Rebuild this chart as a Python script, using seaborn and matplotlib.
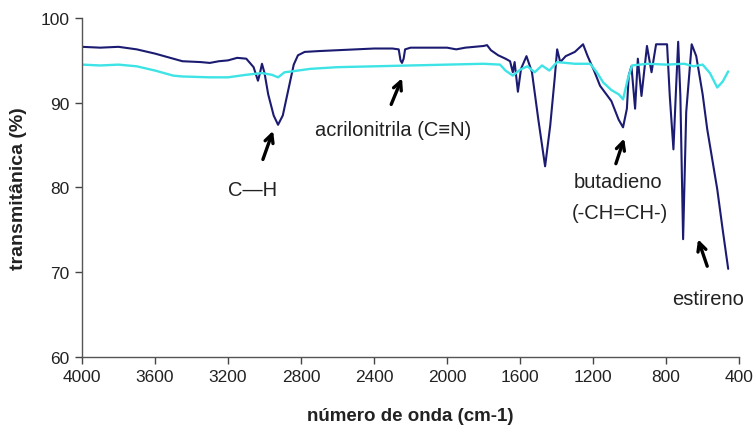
import matplotlib
matplotlib.use("Agg")
import matplotlib.pyplot as plt
import seaborn as sns

# ---- data ----
wn_abs = [4000, 3900, 3800, 3700, 3600, 3500, 3450, 3350, 3300, 3250, 3200, 3150, 3100,
          3060, 3036, 3025, 3014, 3000, 2980, 2950, 2926, 2900, 2870, 2840, 2817, 2780,
          2700, 2600, 2500, 2400, 2300, 2265, 2255, 2247, 2238, 2230, 2200, 2100, 2000,
          1950, 1900, 1850, 1800, 1781, 1760, 1720, 1680, 1655, 1640, 1630, 1612, 1595,
          1565, 1535, 1500, 1463, 1435, 1410, 1397, 1380, 1350, 1300, 1255, 1230, 1195,
          1162, 1100, 1060, 1036, 1015, 1005, 990, 970, 955, 935, 905, 880, 855, 795,
          780, 760, 745, 734, 722, 707, 690, 660, 635, 600, 575, 520, 490, 460]
t_abs = [96.6, 96.5, 96.6, 96.3, 95.8, 95.2, 94.9, 94.8, 94.7, 94.9, 95.0, 95.3, 95.2,
         94.2, 92.6, 93.5, 94.6, 93.5, 91.0, 88.5, 87.4, 88.5, 91.5, 94.5, 95.6, 96.0,
         96.1, 96.2, 96.3, 96.4, 96.4, 96.3, 95.0, 94.7, 95.2, 96.3, 96.5, 96.5, 96.5,
         96.3, 96.5, 96.6, 96.7, 96.8, 96.2, 95.6, 95.2, 94.9, 93.6, 94.8, 91.3, 94.0,
         95.5, 93.6, 88.0, 82.5, 87.3, 93.0, 96.3, 94.8, 95.5, 96.0, 96.9, 95.5, 93.8,
         92.0, 90.2, 88.0, 87.1, 89.3, 93.2, 94.3, 89.3, 95.2, 90.8, 96.7, 93.6, 96.9, 96.9,
         90.8, 84.5, 92.0, 97.2, 90.8, 73.9, 88.9, 96.9, 95.5, 91.0, 86.9, 79.8, 75.0, 70.4]

wn_ref = [4000, 3900, 3800, 3700, 3600, 3500, 3450, 3300, 3200, 3100, 3014, 2960, 2926,
          2890, 2850, 2750, 2600, 2400, 2200, 2000, 1800, 1710, 1680, 1640, 1600, 1560,
          1520, 1480, 1440, 1397, 1300, 1216, 1180, 1145, 1100, 1060, 1036, 1010, 987,
          900, 800, 700, 650, 600, 560, 520, 490, 460]
t_ref = [94.5, 94.4, 94.5, 94.3, 93.8, 93.2, 93.1, 93.0, 93.0, 93.3, 93.5, 93.3, 93.0,
         93.6, 93.7, 94.0, 94.2, 94.3, 94.4, 94.5, 94.6, 94.5, 93.8, 93.2, 93.9, 94.3,
         93.6, 94.4, 93.8, 94.8, 94.6, 94.6, 93.6, 92.4, 91.5, 91.0, 90.4, 92.8, 94.4,
         94.6, 94.5, 94.6, 94.3, 94.5, 93.5, 91.8, 92.5, 93.7]

x_ticks = [4000, 3600, 3200, 2800, 2400, 2000, 1600, 1200, 800, 400]
y_ticks = [60, 70, 80, 90, 100]

sns.set_theme(style="white")
plt.rcParams['font.family'] = ['Liberation Sans', 'DejaVu Sans']
plt.rcParams['xtick.bottom'] = True
plt.rcParams['ytick.left'] = True

fig = plt.figure(figsize=(7.55, 4.31), dpi=100)
ax = fig.add_axes([0.1086, 0.1694, 0.8704, 0.7865])

sns.lineplot(x=wn_abs, y=t_abs, sort=False, estimator=None, color="#1b1b72", lw=1.5, ax=ax)
sns.lineplot(x=wn_ref, y=t_ref, sort=False, estimator=None, color="#3ee3e6", lw=1.7, ax=ax)

ax.set_xlim(4000, 400)
ax.set_ylim(60, 100)
ax.set_xticks(x_ticks)
ax.set_yticks(y_ticks)
ax.tick_params(axis='both', labelsize=12.5, color="#444444", labelcolor="#222222",
               length=5, width=1, direction='out', bottom=True, left=True, pad=4)
for s in ['top', 'right']:
    ax.spines[s].set_visible(False)
for s in ['left', 'bottom']:
    ax.spines[s].set_color("#555555")
    ax.spines[s].set_linewidth(1.0)

ax.set_xlabel("número de onda (cm-1)", fontsize=13.5, fontweight='bold', color="#222222", labelpad=16)
ax.set_ylabel("transmitânica (%)", fontsize=14, fontweight='bold', color="#222222", labelpad=10)

arrow = dict(arrowstyle='->', lw=2.4, color='black', mutation_scale=15)
tkw = dict(fontsize=14.5, color="#222222", ha='center', va='center')

ax.annotate("", xy=(2948, 87.0), xytext=(3014, 83.0), arrowprops=arrow)
ax.text(3068, 79.8, "C—H", **tkw)

ax.annotate("", xy=(2241, 93.2), xytext=(2312, 89.5), arrowprops=arrow)
ax.text(2296, 86.9, "acrilonitrila (C≡N)", **tkw)

ax.annotate("", xy=(1025, 86.1), xytext=(1080, 82.5), arrowprops=arrow)
ax.text(1063, 80.7, "butadieno", **tkw)
ax.text(1052, 77.1, "(-CH=CH-)", **tkw)

ax.annotate("", xy=(630, 74.2), xytext=(570, 70.4), arrowprops=arrow)
ax.text(570, 66.9, "estireno", **tkw)

fig.savefig("out.png", dpi=100)
